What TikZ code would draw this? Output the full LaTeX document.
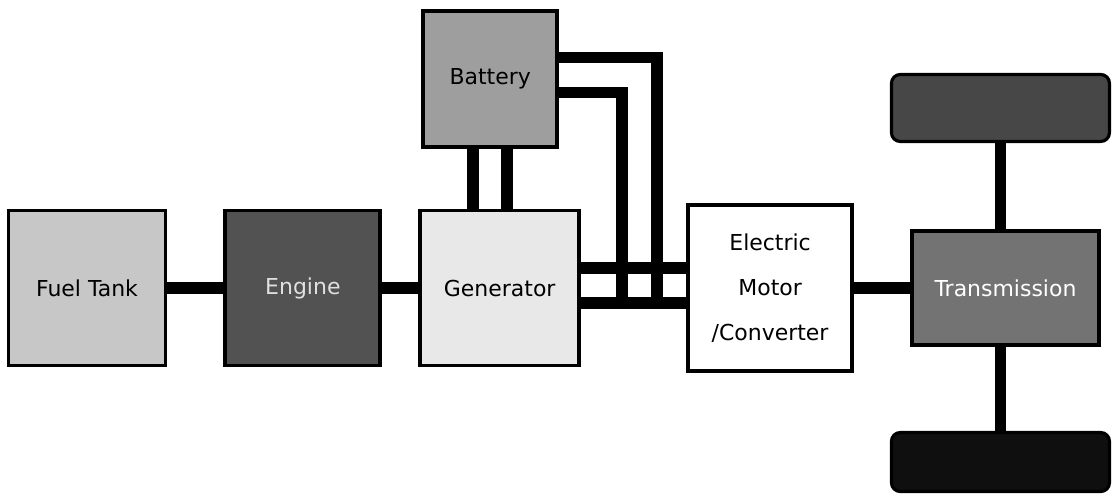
\documentclass[tikz,border=0pt]{standalone}
\usepackage{fontspec}
\setmainfont{DejaVu Sans}
\usetikzlibrary{positioning, backgrounds}

\begin{document}
\begin{tikzpicture}[
  box/.style={rectangle, draw=black, line width=2.2pt, align=center, inner sep=0pt,
              font=\fontsize{12.5}{25.6}\selectfont},
  wheel/.style={rectangle, rounded corners=5pt, draw=black, line width=1.8pt},
  bus/.style={line width=6.6pt, line cap=rect}
]
\useasboundingbox (0,0) rectangle (22.24,-10.04);

% drive line
\node[box, fill=black!22, minimum width=3.14cm, minimum height=3.1cm] (fuel) at (1.74,-5.76) {Fuel Tank};
\node[box, fill=black!68, text=black!12, minimum width=3.1cm, minimum height=3.1cm,
      right=1.12cm of fuel] (eng) {Engine};
\node[box, fill=black!9, minimum width=3.18cm, minimum height=3.1cm,
      right=0.72cm of eng] (gen) {Generator};
\node[box, fill=black!38, minimum width=2.68cm, minimum height=2.72cm,
      above=1.2cm of gen, xshift=-1.9mm] (bat) {Battery};
\node[box, fill=white, minimum width=3.28cm, minimum height=3.32cm,
      right=2.1cm of gen] (mot) {Electric\\Motor\\/Converter};
\node[box, fill=black!55, text=white, minimum width=3.74cm, minimum height=2.28cm,
      right=1.12cm of mot] (trans) {Transmission};

% wheels
\node[wheel, fill=black!72, minimum width=4.36cm, minimum height=1.34cm,
      above=1.72cm of trans, xshift=-1mm] (front) {};
\node[wheel, fill=black!94, minimum width=4.36cm, minimum height=1.18cm,
      below=1.68cm of trans, xshift=-1mm] (rear) {};

% connections
\coordinate (bl) at ([xshift=-3.5mm]bat.south);
\coordinate (br) at ([xshift=3.3mm]bat.south);
\coordinate (bu) at ([yshift=4.2mm]bat.east);
\coordinate (bd) at ([yshift=-2.8mm]bat.east);
\coordinate (mu) at ([yshift=4mm]mot.west);
\coordinate (md) at ([yshift=-3mm]mot.west);
\begin{scope}[on background layer]
\draw[bus] (fuel.east) -- (eng.west);
\draw[bus] (eng.east) -- (gen.west);
\draw[bus] (bl) -- (bl |- gen.north);
\draw[bus] (br) -- (br |- gen.north);
\draw[bus] (gen.east |- mu) -- (mu);
\draw[bus] (gen.east |- md) -- (md);
\draw[bus] (bu) -| ([xshift=-5.8mm]md);
\draw[bus] (bd) -| ([xshift=-12.8mm]md);
\draw[bus] (mot.east) -- (trans.west);
\draw[bus] (front.south) -- (front.south |- trans.north);
\draw[bus] (rear.north) -- (rear.north |- trans.south);
\end{scope}
\end{tikzpicture}
\end{document}
